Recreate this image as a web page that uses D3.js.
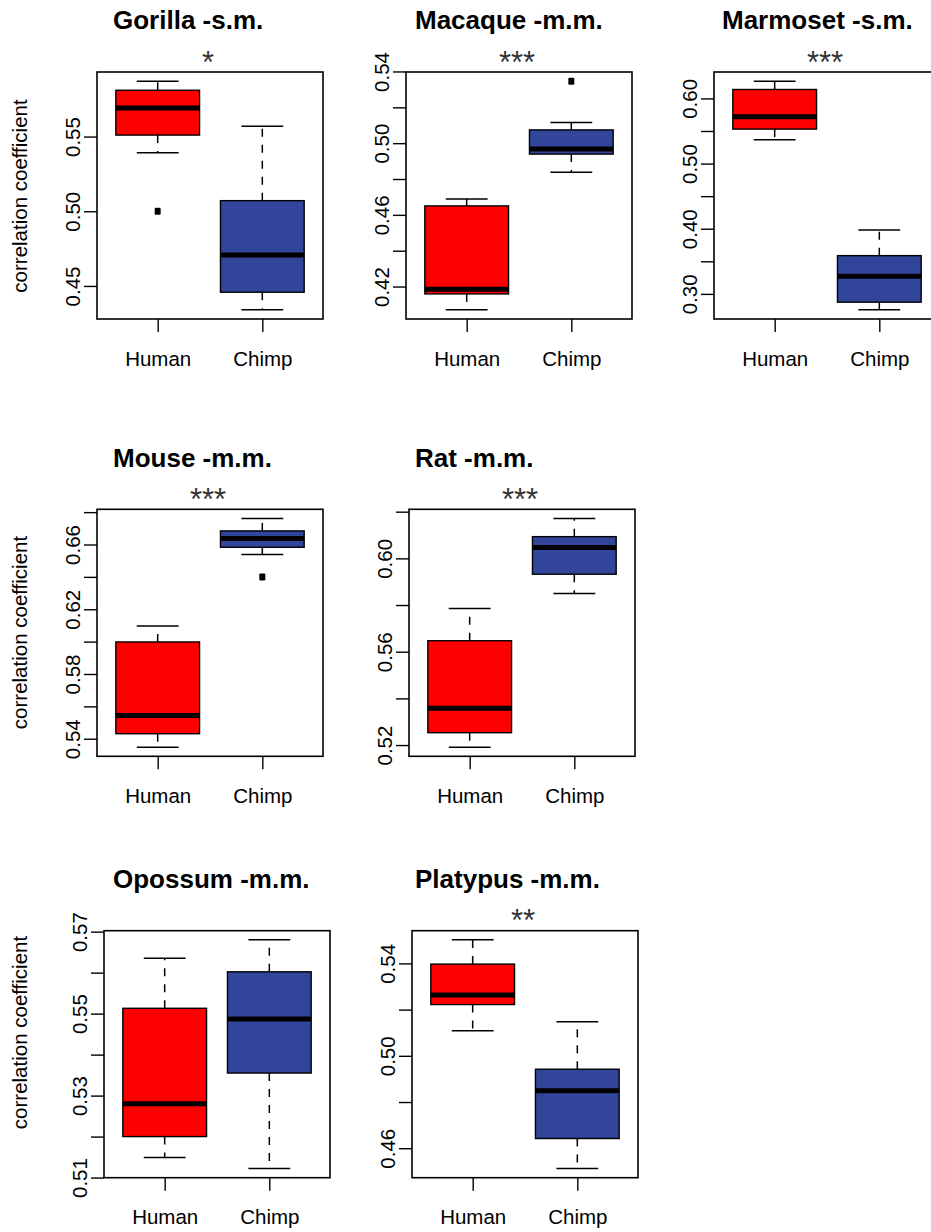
<!DOCTYPE html>
<html><head><meta charset="utf-8">
<script src="https://cdn.jsdelivr.net/npm/d3@7"></script>
<style>body{margin:0;background:#fff}</style>
</head><body>
<svg id="c" width="931" height="1232" style="display:block;background:#fff"></svg>
<script>
// ---- data ----
const titles = ["Gorilla -s.m.","Macaque -m.m.","Marmoset -s.m.","Mouse -m.m.","Rat -m.m.","Opossum -m.m.","Platypus -m.m."];
const stars = ["*","***","***","***","***","","**"];
const categories = ["Human","Chimp"];
const ylabText = "correlation coefficient";

const humanLow    = [0.5391, 0.4070, 0.5365, 0.5348, 0.5191, 0.5149, 0.5108];
const humanQ1     = [0.5510, 0.4159, 0.5529, 0.5431, 0.5253, 0.5200, 0.5222];
const humanMedian = [0.5691, 0.4185, 0.5718, 0.5544, 0.5358, 0.5280, 0.5263];
const humanQ3     = [0.5810, 0.4650, 0.6137, 0.5998, 0.5647, 0.5513, 0.5397];
const humanHigh   = [0.5871, 0.4688, 0.6265, 0.6097, 0.5785, 0.5635, 0.5502];
const humanOutliers = [[0.500],[],[],[],[],[],[]];

const chimpLow    = [0.4340, 0.4838, 0.2755, 0.6538, 0.5849, 0.5122, 0.4512];
const chimpQ1     = [0.4458, 0.4939, 0.2873, 0.6583, 0.5932, 0.5355, 0.4642];
const chimpMedian = [0.4707, 0.4968, 0.3271, 0.6637, 0.6047, 0.5487, 0.4849];
const chimpQ3     = [0.5071, 0.5074, 0.3587, 0.6684, 0.6093, 0.5602, 0.4942];
const chimpHigh   = [0.5569, 0.5115, 0.3982, 0.6761, 0.6171, 0.5680, 0.5148];
const chimpOutliers = [[],[0.5346],[],[0.640],[],[],[]];

const tickValues = [
  [0.45,0.50,0.55],
  [0.42,0.44,0.46,0.48,0.50,0.52,0.54],
  [0.30,0.35,0.40,0.45,0.50,0.55,0.60],
  [0.54,0.56,0.58,0.60,0.62,0.64,0.66,0.68],
  [0.52,0.54,0.56,0.58,0.60,0.62],
  [0.51,0.52,0.53,0.54,0.55,0.56,0.57],
  [0.46,0.48,0.50,0.52,0.54]
];
const tickLabels = [
  ["0.45","0.50","0.55"],
  ["0.42","0.46","0.50","0.54"],
  ["0.30","0.40","0.50","0.60"],
  ["0.54","0.58","0.62","0.66"],
  ["0.52","0.56","0.60"],
  ["0.51","0.53","0.55","0.57"],
  ["0.46","0.50","0.54"]
];

// ---- layout ----
const plotLeft = [97, 406, 714, 97, 409, 104, 412];
const plotTop  = [72, 72, 72, 509.3, 509.3, 930.7, 930.7];
const plotW = 226, plotH = 247;
const titleX = [113, 415, 722, 113, 415, 113, 415];
const ylabY = {0: 196, 3: 632.5, 5: 1032.5};
const fills = ["#FF0000", "#31469B"];
const FONT = "'Liberation Sans', Arial, Helvetica, sans-serif";
const fs = 20.5;

const svg = d3.select("#c");
svg.append("rect").attr("width",931).attr("height",1232).attr("fill","#fff");

titles.forEach((title, p) => {
  const L = plotLeft[p], T = plotTop[p];
  const groups = [
    {low: humanLow[p], q1: humanQ1[p], med: humanMedian[p], q3: humanQ3[p], high: humanHigh[p], out: humanOutliers[p]},
    {low: chimpLow[p], q1: chimpQ1[p], med: chimpMedian[p], q3: chimpQ3[p], high: chimpHigh[p], out: chimpOutliers[p]}
  ];
  const all = groups.flatMap(g => [g.low, g.high, ...g.out]);
  const [lo, hi] = d3.extent(all);
  const pad = (hi - lo) * 0.04;
  const y = d3.scaleLinear().domain([lo - pad, hi + pad]).range([T + plotH, T]);
  const x = d3.scaleLinear().domain([0.42, 2.58]).range([L, L + plotW]);

  const g = svg.append("g");

  groups.forEach((d, i) => {
    const cx = x(i + 1), hw = x(i + 1.4) - cx, sw = x(i + 1.2) - cx;
    // whiskers
    g.append("line").attr("x1",cx).attr("x2",cx).attr("y1",y(d.q3)).attr("y2",y(d.high))
      .attr("stroke","#000").attr("stroke-width",1.5).attr("stroke-dasharray","8,8");
    g.append("line").attr("x1",cx).attr("x2",cx).attr("y1",y(d.q1)).attr("y2",y(d.low))
      .attr("stroke","#000").attr("stroke-width",1.5).attr("stroke-dasharray","8,8");
    // staples
    [d.low, d.high].forEach(v => {
      g.append("line").attr("x1",cx - sw).attr("x2",cx + sw).attr("y1",y(v)).attr("y2",y(v))
        .attr("stroke","#000").attr("stroke-width",1.5);
    });
    // box
    g.append("rect").attr("x",cx - hw).attr("width",2*hw)
      .attr("y",y(d.q3)).attr("height",y(d.q1) - y(d.q3))
      .attr("fill",fills[i]).attr("stroke","#000").attr("stroke-width",1.4);
    // median
    g.append("line").attr("x1",cx - hw).attr("x2",cx + hw).attr("y1",y(d.med)).attr("y2",y(d.med))
      .attr("stroke","#000").attr("stroke-width",5);
    // outliers
    d.out.forEach(v => {
      g.append("rect").attr("x",cx - 3).attr("y",y(v) - 3.5).attr("width",6).attr("height",7)
        .attr("rx",1.2).attr("fill","#000");
    });
  });

  // plot frame
  g.append("rect").attr("x",L).attr("y",T).attr("width",plotW).attr("height",plotH)
    .attr("fill","none").attr("stroke","#000").attr("stroke-width",1.6);

  // y axis
  const labs = tickLabels[p];
  const ya = g.append("g").attr("transform",`translate(${L},0)`)
    .call(d3.axisLeft(y).tickValues(tickValues[p]).tickSize(13).tickSizeOuter(0)
      .tickFormat(v => labs.includes(v.toFixed(2)) ? v.toFixed(2) : ""));
  ya.select(".domain").remove();
  ya.selectAll(".tick line").attr("stroke","#000").attr("stroke-width",1.4);
  ya.selectAll(".tick text").attr("transform","rotate(-90)").attr("x",0).attr("y",-17).attr("dy",0)
    .attr("text-anchor","middle").attr("fill","#000")
    .style("font-family",FONT).style("font-size",fs+"px");

  // x axis
  const xa = g.append("g").attr("transform",`translate(0,${T + plotH})`)
    .call(d3.axisBottom(x).tickValues([1,2]).tickSize(13).tickSizeOuter(0)
      .tickFormat((v,i) => categories[i]));
  xa.select(".domain").remove();
  xa.selectAll(".tick line").attr("stroke","#000").attr("stroke-width",1.4);
  xa.selectAll(".tick text").attr("y",46.5).attr("dy",0).attr("fill","#000")
    .style("font-family",FONT).style("font-size",fs+"px");

  // title
  g.append("text").attr("x",titleX[p]).attr("y",T - 42.6).text(title)
    .style("font-family",FONT).style("font-size","26px").style("font-weight","bold").attr("fill","#000");

  // significance stars
  if (stars[p]) {
    g.append("text").attr("x",L + plotW/2 - 2).attr("y",T + 0.5).attr("text-anchor","middle").text(stars[p])
      .style("font-family",FONT).style("font-size","31px").attr("fill","#333");
  }

  // y label
  if (ylabY[p] !== undefined) {
    g.append("text").attr("transform",`translate(27,${ylabY[p]}) rotate(-90)`).attr("text-anchor","middle")
      .text(ylabText).style("font-family",FONT).style("font-size",fs+"px").attr("fill","#000");
  }
});
</script>
</body></html>
